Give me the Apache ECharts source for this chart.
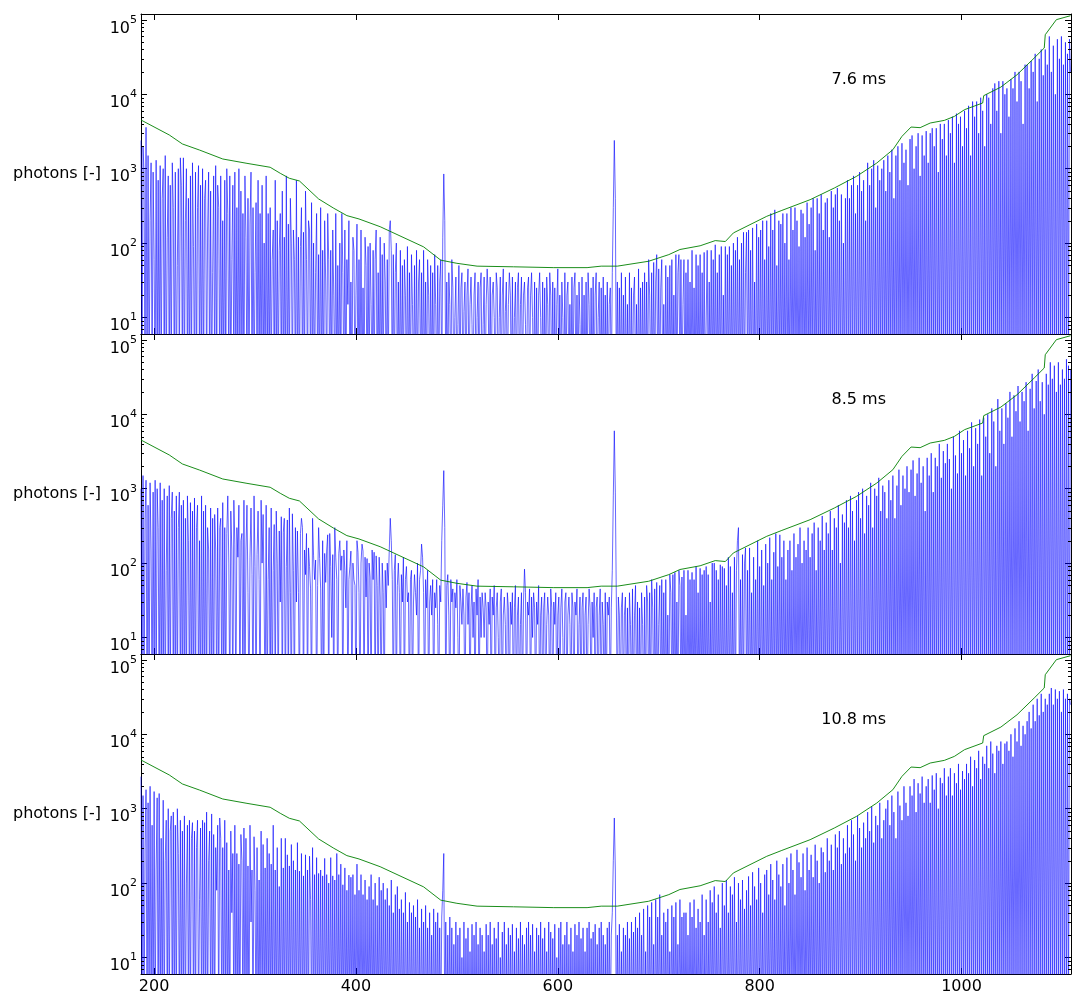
<!DOCTYPE html>
<html><head><meta charset="utf-8">
<script src="https://cdn.jsdelivr.net/npm/echarts@6/dist/echarts.min.js"></script>
<style>html,body{margin:0;padding:0;background:#fff}#c{width:1082px;height:1004px}</style>
</head><body><div id="c"></div>
<script>
// ---------------- data ----------------
const WAVELENGTH = [
187,188,189,190,191,192,193,194,195,196,197,198,199,200,201,202,203,204,205,206,
207,208,209,210,211,212,213,214,215,216,217,218,219,220,221,222,223,224,225,226,
227,228,229,230,231,232,233,234,235,236,237,238,239,240,241,242,243,244,245,246,
247,248,249,250,251,252,253,254,255,256,257,258,259,260,261,262,263,264,265,266,
267,268,269,270,271,272,273,274,275,276,277,278,279,280,281,282,283,284,285,286,
287,288,289,290,291,292,293,294,295,296,297,298,299,300,301,302,303,304,305,306,
307,308,309,310,311,312,313,314,315,316,317,318,319,320,321,322,323,324,325,326,
327,328,329,330,331,332,333,334,335,336,337,338,339,340,341,342,343,344,345,346,
347,348,349,350,351,352,353,354,355,356,357,358,359,360,361,362,363,364,365,366,
367,368,369,370,371,372,373,374,375,376,377,378,379,380,381,382,383,384,385,386,
387,388,389,390,391,392,393,394,395,396,397,398,399,400,401,402,403,404,405,406,
407,408,409,410,411,412,413,414,415,416,417,418,419,420,421,422,423,424,425,426,
427,428,429,430,431,432,433,434,435,436,437,438,439,440,441,442,443,444,445,446,
447,448,449,450,451,452,453,454,455,456,457,458,459,460,461,462,463,464,465,466,
467,468,469,470,471,472,473,474,475,476,477,478,479,480,481,482,483,484,485,486,
487,488,489,490,491,492,493,494,495,496,497,498,499,500,501,502,503,504,505,506,
507,508,509,510,511,512,513,514,515,516,517,518,519,520,521,522,523,524,525,526,
527,528,529,530,531,532,533,534,535,536,537,538,539,540,541,542,543,544,545,546,
547,548,549,550,551,552,553,554,555,556,557,558,559,560,561,562,563,564,565,566,
567,568,569,570,571,572,573,574,575,576,577,578,579,580,581,582,583,584,585,586,
587,588,589,590,591,592,593,594,595,596,597,598,599,600,601,602,603,604,605,606,
607,608,609,610,611,612,613,614,615,616,617,618,619,620,621,622,623,624,625,626,
627,628,629,630,631,632,633,634,635,636,637,638,639,640,641,642,643,644,645,646,
647,648,649,650,651,652,653,654,655,656,657,658,659,660,661,662,663,664,665,666,
667,668,669,670,671,672,673,674,675,676,677,678,679,680,681,682,683,684,685,686,
687,688,689,690,691,692,693,694,695,696,697,698,699,700,701,702,703,704,705,706,
707,708,709,710,711,712,713,714,715,716,717,718,719,720,721,722,723,724,725,726,
727,728,729,730,731,732,733,734,735,736,737,738,739,740,741,742,743,744,745,746,
747,748,749,750,751,752,753,754,755,756,757,758,759,760,761,762,763,764,765,766,
767,768,769,770,771,772,773,774,775,776,777,778,779,780,781,782,783,784,785,786,
787,788,789,790,791,792,793,794,795,796,797,798,799,800,801,802,803,804,805,806,
807,808,809,810,811,812,813,814,815,816,817,818,819,820,821,822,823,824,825,826,
827,828,829,830,831,832,833,834,835,836,837,838,839,840,841,842,843,844,845,846,
847,848,849,850,851,852,853,854,855,856,857,858,859,860,861,862,863,864,865,866,
867,868,869,870,871,872,873,874,875,876,877,878,879,880,881,882,883,884,885,886,
887,888,889,890,891,892,893,894,895,896,897,898,899,900,901,902,903,904,905,906,
907,908,909,910,911,912,913,914,915,916,917,918,919,920,921,922,923,924,925,926,
927,928,929,930,931,932,933,934,935,936,937,938,939,940,941,942,943,944,945,946,
947,948,949,950,951,952,953,954,955,956,957,958,959,960,961,962,963,964,965,966,
967,968,969,970,971,972,973,974,975,976,977,978,979,980,981,982,983,984,985,986,
987,988,989,990,991,992,993,994,995,996,997,998,999,1000,1001,1002,1003,1004,1005,1006,
1007,1008,1009,1010,1011,1012,1013,1014,1015,1016,1017,1018,1019,1020,1021,1022,1023,1024,1025,1026,
1027,1028,1029,1030,1031,1032,1033,1034,1035,1036,1037,1038,1039,1040,1041,1042,1043,1044,1045,1046,
1047,1048,1049,1050,1051,1052,1053,1054,1055,1056,1057,1058,1059,1060,1061,1062,1063,1064,1065,1066,
1067,1068,1069,1070,1071,1072,1073,1074,1075,1076,1077,1078,1079,1080,1081,1082,1083,1084,1085,1086,
1087,1088,1089,1090,1091,1092,1093,1094,1095,1096,1097,1098,1099,1100,1101,1102,1103,1104,1105,1106,
1107,1108];

const PHOTONS_7_6MS = [
2400,1,2000,900,1,3600,1,1500,1,200,1200,1,900,60,1,1300,1,700,1,1100,
1,400,1000,1,1500,1,120,800,1,600,1,1200,300,1,900,1,50,1000,1,1400,
600,1,1400,1,200,1000,1,400,1,800,1,1200,90,1,900,1,300,1100,1,600,
1,1000,1,400,700,1,150,900,1,500,1,40,800,1,1100,1,600,300,1,800,
1,200,1,700,1,1000,250,1,800,1,60,600,1,900,1,300,1,1000,1,500,
1,250,1,800,120,1,400,1,180,900,1,300,1,40,350,1,700,1,250,1,
600,1,100,1,800,1,250,1,300,1,60,150,1,700,1,200,1,80,250,1,
500,1,120,1,800,1,180,1,400,100,1,150,60,1,700,1,120,1,90,300,
1,140,1,500,60,1,200,150,1,350,1,100,1,40,250,1,70,1,300,1,
80,1,200,30,1,250,60,1,80,1,150,20,1,250,1,50,1,100,1,250,
40,1,150,1,60,15,200,1,30,1,120,80,1,20,180,1,60,1,150,1,
25,1,120,50,1,90,1,100,15,1,80,1,60,150,1,40,1,120,1,70,
1,100,30,1,60,1,150,200,80,1,70,1,40,100,1,30,1,80,1,50,
1,60,20,1,90,1,40,1,70,15,1,50,1,80,1,30,60,1,40,1,
80,1,30,1,60,20,1,50,1,40,1,70,15,1,50,1,30,60,1,120,
850,200,1,30,1,40,15,1,60,25,1,10,35,1,8,50,1,25,40,1,
12,30,1,20,45,1,15,35,8,1,20,40,1,10,30,1,25,40,1,8,
35,1,15,45,20,1,35,1,20,30,10,1,40,25,1,10,35,1,20,45,
1,12,30,1,15,40,20,1,35,1,10,30,1,25,40,1,15,35,1,20,
30,8,1,25,35,1,20,40,10,1,30,1,25,1,20,40,10,1,30,1,
25,1,35,15,1,40,20,1,30,1,25,1,15,45,1,20,1,30,10,1,
40,1,20,30,1,15,1,35,1,25,40,1,20,1,30,8,1,35,1,20,
1,30,1,40,15,1,25,1,35,1,20,40,1,10,30,1,25,1,35,1,
20,1,30,1,15,25,1,40,300,2400,400,1,30,1,25,1,40,1,20,1,
35,1,15,1,40,1,25,1,20,35,1,15,1,45,1,25,1,30,1,40,
1,30,1,60,20,1,40,1,55,1,30,70,1,45,1,25,60,1,15,1,
50,1,35,1,50,1,60,1,20,1,70,1,40,70,1,60,1,15,60,1,
40,1,60,1,30,1,80,1,25,1,70,1,50,1,70,1,40,1,75,1,
1,80,1,30,1,80,1,60,1,95,1,40,1,70,1,90,1,20,1,90,
1,70,1,90,1,50,1,100,1,80,1,120,1,60,1,100,1,140,1,40,
140,1,150,1,80,1,160,1,30,1,180,1,120,1,150,1,200,1,60,1,
200,1,90,1,250,1,150,1,280,1,50,1,200,1,180,1,250,1,100,1,
250,1,60,1,300,1,150,1,300,1,200,1,90,1,280,1,250,1,120,1,
350,1,180,1,300,1,400,1,80,1,400,1,250,1,450,1,150,1,350,1,
400,1,120,1,500,1,300,1,450,1,550,1,200,1,450,1,100,1,400,1,
700,1,400,1,600,1,800,1,250,1,600,1,900,1,500,1,700,1,200,1,
1200,1,600,1,1000,1,1300,1,300,1,1100,1,700,1,1000,1,1300,1,500,1,
1500,1,900,1,1800,1,400,1,1500,1,2000,1,700,1,2200,1,1200,1,1800,1,
600,1,2500,1,2800,1,1000,1,2000,1,3000,1,800,1,2800,1,1500,1,3200,1,
1200,1,3000,1,3500,1,2000,1,3500,1,900,1,4000,1,2500,1,4000,1,1500,1,
4500,1,3000,1,5000,1,1200,1,5500,1,4000,1,5000,1,2000,1,6000,1,3500,1,
7000,1,1500,1,8000,1,5000,1,8000,1,3000,1,9000,1,6000,1,2000,1,10000,1,
9000,1,4000,1,12000,1,14000,1,6000,1,15000,1,3000,1,15000,1,10000,1,12000,1,
5000,1,16000,1,12000,1,20000,1,8000,1,20000,1,15000,1,4000,1,25000,1,25000,1,
12000,1,28000,1,20000,1,35000,1,8000,1,30000,1,40000,1,18000,1,40000,1,25000,1,
60000,1,20000,1,45000,1,10000,1,55000,1,30000,1,60000,1,25000,1,50000,1,35000,1,
55000,20000];

const PHOTONS_8_5MS = [
1000,1,1500,1,400,1300,1,600,1,1200,150,1,900,1,1300,1,1000,300,1,1200,
1,700,1,1000,1,80,800,1,1100,1,400,900,1,500,1,800,1,300,900,1,
600,1,700,1,400,1,800,200,1,650,1,500,1,750,1,300,600,1,200,1,
800,1,500,1,600,1,300,150,1,550,1,400,1,450,150,1,550,1,300,400,
1,650,1,300,1,250,800,100,1,500,150,1,700,180,1,300,120,600,1,200,
250,1,700,1,150,600,40,1,120,550,70,1,800,90,1,130,500,60,1,700,
100,450,30,1,600,1,60,300,1,550,1,80,330,1,500,100,1,270,30,420,
1,260,400,1,90,380,1,550,40,1,460,80,1,300,30,270,40,1,250,400,
300,1,150,70,250,1,160,90,45,1,400,125,60,110,1,50,300,115,45,1,
200,1,135,55,150,240,1,250,90,10,130,1,300,120,60,1,135,200,80,125,
1,150,80,25,200,1,60,90,145,1,100,60,50,1,200,140,40,1,100,180,
145,1,120,35,115,1,100,65,1,150,60,140,1,125,50,1,120,35,1,100,
40,1,80,25,100,50,150,400,200,60,1,80,130,1,50,100,40,1,70,30,
120,1,60,90,30,40,1,60,80,1,30,70,40,20,100,1,60,80,180,120,
40,1,60,25,80,1,30,50,20,60,1,40,25,60,15,1,50,30,200,600,
1750,300,1,50,70,20,1,60,30,45,1,40,25,60,10,1,50,30,15,45,
20,1,35,55,15,40,1,25,50,10,30,1,45,20,60,1,35,10,40,25,
10,40,25,1,30,15,45,1,35,20,50,1,25,40,10,1,30,45,1,20,
35,15,1,40,25,1,30,15,40,1,25,50,1,20,35,1,15,40,1,30,
83,40,1,30,20,45,1,35,10,40,25,1,30,15,50,1,20,35,1,25,
40,1,15,35,20,1,45,25,1,30,15,40,1,20,35,1,25,45,10,1,
30,40,1,20,35,15,1,40,25,1,30,20,45,1,15,35,1,25,40,1,
20,35,1,15,45,25,1,30,10,40,1,25,35,1,20,45,1,30,15,1,
40,1,30,20,35,1,25,80,800,6000,900,30,1,35,20,1,25,40,1,20,
35,1,25,1,40,15,1,45,1,20,50,1,30,1,25,1,40,15,1,35,
1,50,30,1,40,1,60,25,1,45,1,55,1,15,50,1,60,1,40,1,
60,1,20,1,70,40,1,70,1,75,1,30,1,80,50,1,65,1,80,1,
20,1,80,1,60,1,75,1,60,1,90,1,40,1,85,1,70,1,80,1,
90,1,70,1,30,1,100,1,100,1,80,1,60,1,95,1,90,1,85,1,
50,1,120,1,90,1,40,1,120,1,80,200,300,1,60,1,130,1,100,160,
1,80,1,160,1,40,1,120,1,60,1,200,1,90,1,150,1,50,1,180,
1,100,1,220,1,60,1,140,1,250,1,90,1,240,1,120,1,200,1,60,
1,150,1,200,1,80,1,250,1,120,1,180,1,300,1,100,1,200,1,150,
1,300,1,120,1,250,1,350,1,80,1,300,1,200,1,430,1,150,1,350,
1,250,1,500,1,150,1,400,1,300,1,600,1,100,1,450,1,350,1,700,
1,300,1,800,1,500,1,200,1,700,1,900,1,400,1,1000,1,250,1,800,
1,600,1,1200,1,300,1,1000,1,800,1,1400,1,500,1,1100,1,900,1,400,
1,1300,1,700,1,1500,1,400,1,1100,1,1800,1,600,1,1500,1,1000,1,2000,
1,900,1,1800,1,2400,1,800,1,1600,1,2600,1,1200,1,2000,1,500,1,2600,
1,1500,1,3000,1,900,1,2600,1,2000,1,4000,1,1400,1,3200,1,2200,1,4000,
1,2500,1,1000,1,5000,1,2800,1,1600,1,6000,1,3000,1,4500,1,1500,1,6000,
1,3500,1,7800,1,2000,1,6500,1,4000,1,8500,1,1500,1,9000,1,5000,1,10000,
1,3000,1,12000,1,8000,1,2000,1,16000,1,6000,1,12000,1,4000,1,14000,1,9000,
1,20000,1,5000,1,18000,1,11000,1,24000,1,8000,1,20000,1,15000,1,27000,1,6000,
1,22000,1,35000,1,12000,1,28000,1,40000,1,15000,1,27000,1,10000,1,35000,1,25000,
1,50000,1,30000,1,45000,1,20000,1,50000,1,25000,1,40000,1,30000,1,55000,1,45000,
1,40000];

const PHOTONS_10_8MS = [
2700,1,1500,1,300,1800,1,1200,1,2000,1,600,1,1700,1,150,1400,1,1600,1,
400,1,1300,1,200,700,1,1000,1,500,800,1,900,1,600,1,1000,250,1,700,
1,500,1,800,1,100,600,1,700,1,400,650,1,500,1,300,700,1,60,550,
1,700,1,650,1,900,1,200,500,1,850,1,450,1,300,80,600,1,750,400,
1,300,1,700,1,350,1,150,1,500,40,250,1,600,1,250,1,180,1,450,
200,1,550,1,400,1,170,1,600,30,150,1,420,80,1,300,1,110,1,500,
1,330,1,160,1,400,1,250,1,180,1,600,1,150,1,300,1,90,1,400,
1,160,1,400,1,240,1,170,1,330,1,200,1,150,1,350,1,145,1,250,
1,125,1,240,1,150,1,230,60,1,300,1,130,1,220,1,135,1,150,1,
125,1,215,1,130,1,100,1,220,1,125,1,110,1,250,1,130,1,180,1,
95,1,160,1,80,1,128,1,120,1,130,1,70,1,180,1,80,1,130,1,
70,1,110,1,60,1,90,1,130,1,60,1,100,1,50,1,120,1,80,1,
100,1,60,1,85,1,50,1,110,1,40,1,70,1,90,1,45,1,60,1,
40,1,75,1,30,1,55,1,40,1,50,1,35,1,60,1,25,1,45,1,
30,1,50,1,25,1,40,1,20,1,45,1,30,1,40,1,25,1,35,80,
250,1,30,1,20,1,35,1,25,1,15,1,30,1,20,1,25,1,10,1,
30,1,18,1,25,1,12,1,28,1,20,1,30,1,15,1,25,1,20,1,
12,1,28,1,20,1,30,1,15,1,25,1,18,1,30,1,10,1,22,1,
30,1,15,1,25,1,20,1,28,1,12,1,25,1,18,1,30,1,20,1,
15,1,25,1,30,1,20,1,28,1,12,1,25,1,20,1,30,1,18,1,
25,1,12,1,30,1,22,1,18,1,28,1,10,1,25,1,30,1,15,1,
20,1,30,1,15,1,25,1,12,1,28,1,20,1,30,1,18,1,25,1,
12,1,25,1,30,1,18,1,22,1,28,1,15,1,25,1,30,1,20,1,
15,1,25,1,30,1,20,40,200,750,150,1,20,1,28,1,12,1,25,1,
20,1,30,1,18,1,30,1,22,1,35,1,25,1,40,1,20,1,45,1,
12,1,50,1,35,1,55,1,15,1,60,1,35,1,70,1,20,1,40,1,
30,1,45,1,12,1,50,1,35,1,55,1,15,1,60,1,35,1,40,1,
40,1,20,1,55,1,35,1,60,1,25,1,45,1,30,1,70,1,20,1,
60,1,30,1,80,1,55,1,90,1,40,1,70,1,25,1,100,1,50,1,
110,1,40,1,90,1,70,1,120,1,30,1,100,1,60,1,110,1,45,1,
80,1,123,1,50,1,140,1,90,1,60,1,160,1,100,1,40,1,130,1,
150,1,70,1,180,1,110,1,60,1,200,1,130,1,90,1,180,1,50,1,
220,1,100,1,250,1,150,1,70,1,280,1,190,1,120,1,250,1,80,1,
300,1,150,1,240,1,120,1,328,1,200,1,100,1,300,1,260,1,140,1,
400,1,200,1,328,1,150,1,450,1,300,1,500,1,180,1,400,1,250,1,
600,1,300,1,700,1,450,1,200,1,800,1,550,1,300,1,650,1,400,1,
900,1,500,1,1070,1,350,1,800,1,600,1,1200,1,400,1,700,1,1000,1,
1300,1,600,1,1500,1,900,1,400,1,1700,1,1100,1,700,1,2000,1,1200,1,
800,1,2000,1,1500,1,2500,1,900,1,2200,1,1600,1,2700,1,1200,1,2000,1,
2500,1,1200,1,2800,1,1800,1,3000,1,1000,1,2600,1,2200,1,3500,1,1500,1,
2700,1,3500,1,1500,1,3000,1,2200,1,4000,1,1800,1,3200,1,2500,1,4000,1,
3000,1,5000,1,2000,1,4500,1,3500,1,6000,1,2500,1,5000,1,4000,1,7000,1,
3500,1,8000,1,5500,1,3000,1,7000,1,6000,1,8000,1,4000,1,7500,1,8000,1,
6000,1,10000,1,5000,1,12000,1,8000,1,15000,1,7000,1,13000,1,10000,1,15000,1,
20000,1,12000,1,25000,1,15000,1,30000,1,18000,1,35000,1,20000,1,30000,1,25000,1,
35000,1,41900,1,25000,1,40000,1,30000,1,38000,1,20000,1,40000,1,30000,1,35000,1,
30000,25000];

const THRESHOLD_WL = [187,215,228,245,268,292,315,325,334,344,363,378,391,403,424,467,484,500,520,556,596,629,643,659,690,710,721,741,756,766,774,807,822,850,874,896,916,932,941,950,959,969,983,993,1003,1021,1022,1039,1055,1072,1082,1083,1094,1108];
const THRESHOLD_VAL = [4510,2840,2150,1780,1350,1180,1045,867,743,684,392,294,234,211,166,89,59,53.5,49,48,46.8,46.8,49,49,57,70,82,92,108,105,137,229,275,383,550,789,1190,1800,2720,3630,3560,4110,4460,5050,6210,7640,9580,12500,18300,30700,41900,63200,100700,113800];

const PANEL_LABELS = ['7.6 ms', '8.5 ms', '10.8 ms'];
const X_TICK_LABELS = [200, 400, 600, 800, 1000];
const Y_MINOR_TICKS = [6,7,8,9,20,30,40,50,60,70,80,90,200,300,400,500,600,700,800,900,2000,3000,4000,5000,6000,7000,8000,9000,20000,30000,40000,50000,60000,70000,80000,90000];
const Y_NAME = 'photons [-]';

// ---------------- layout / style ----------------
const X_MIN = 187, X_MAX = 1108.5, Y_MIN = 6, Y_MAX = 120000;
const GRID_LEFT = 141, GRID_WIDTH = 930, GRID_TOP = 14, GRID_H = 320;
const FONT = 'DejaVu Sans';

const PANELS = [PHOTONS_7_6MS, PHOTONS_8_5MS, PHOTONS_10_8MS];
PANELS.forEach((p, k) => { if (p.length !== WAVELENGTH.length) throw new Error('panel ' + k + ' length ' + p.length + ' vs ' + WAVELENGTH.length); });
if (THRESHOLD_WL.length !== THRESHOLD_VAL.length) throw new Error('threshold length');

const chart = echarts.init(document.getElementById('c'), null, {renderer: 'canvas'});
const grid = [], xAxis = [], yAxis = [], series = [], graphic = [];
const axisLine = {show: true, onZero: false, lineStyle: {color: '#000', width: 1}};
const tick = {show: true, inside: true, length: 6, lineStyle: {color: '#000', width: 1}};

PANELS.forEach((vals, p) => {
  grid.push({left: GRID_LEFT, width: GRID_WIDTH, top: GRID_TOP + GRID_H * p, height: GRID_H,
    containLabel: false, outerBoundsMode: 'none'});
  xAxis.push({gridIndex: p, type: 'value', position: 'bottom', min: X_MIN, max: X_MAX,
    splitLine: {show: false}, axisLine, axisTick: tick,
    axisLabel: {show: p === 2, margin: 5, color: '#000', fontSize: 16, fontFamily: FONT,
      formatter: v => X_TICK_LABELS.some(t => Math.abs(t - v) < 1e-6) ? String(Math.round(v)) : ''}});
  xAxis.push({gridIndex: p, type: 'value', position: 'top', min: X_MIN, max: X_MAX,
    splitLine: {show: false}, axisLine, axisTick: tick, axisLabel: {show: false}});
  yAxis.push({gridIndex: p, type: 'log', logBase: 10, position: 'left', min: Y_MIN, max: Y_MAX,
    name: Y_NAME, nameLocation: 'middle', nameRotate: 0, nameGap: 40,
    nameTextStyle: {color: '#000', fontSize: 16, fontFamily: FONT},
    splitLine: {show: false}, axisLine, axisTick: tick,
    axisLabel: {show: true, margin: 4, color: '#000', fontFamily: FONT, padding: [11, 0, 0, 0],
      formatter: v => { const l = Math.log10(v), e = Math.round(l); return Math.abs(l - e) > 1e-6 ? '' : '{b|10}{s|' + e + '}'; },
      rich: {b: {fontSize: 16, fontFamily: FONT, color: '#000', lineHeight: 22, verticalAlign: 'bottom'},
             s: {fontSize: 11, fontFamily: FONT, color: '#000', lineHeight: 7, verticalAlign: 'top'}}}});
  yAxis.push({gridIndex: p, type: 'log', logBase: 10, position: 'right', min: Y_MIN, max: Y_MAX,
    splitLine: {show: false}, axisLine, axisTick: tick, axisLabel: {show: false}});

  series.push({type: 'line', xAxisIndex: 2 * p, yAxisIndex: 2 * p, data: WAVELENGTH.map((w, i) => [w, vals[i]]),
    symbol: 'none', showSymbol: false, clip: true, silent: true, animation: false, z: 2,
    lineStyle: {color: '#0000ff', width: 0.6}});
  series.push({type: 'line', xAxisIndex: 2 * p, yAxisIndex: 2 * p, data: THRESHOLD_WL.map((w, i) => [w, THRESHOLD_VAL[i]]),
    symbol: 'none', showSymbol: false, clip: true, silent: true, animation: false, z: 3,
    lineStyle: {color: '#008000', width: 0.9}});
  series.push({type: 'custom', xAxisIndex: 2 * p, yAxisIndex: 2 * p, silent: true, animation: false, z: 5,
    data: Y_MINOR_TICKS.map(v => [X_MIN, v]),
    renderItem: (params, api) => {
      const v = api.value(1);
      const pl = api.coord([X_MIN, v]), pr = api.coord([X_MAX, v]);
      const y = Math.round(pl[1]) + 0.5;
      return {type: 'group', children: [
        {type: 'line', shape: {x1: pl[0], y1: y, x2: pl[0] + 3, y2: y}, style: {stroke: '#000', lineWidth: 1}},
        {type: 'line', shape: {x1: pr[0] - 3, y1: y, x2: pr[0], y2: y}, style: {stroke: '#000', lineWidth: 1}}
      ]};
    }});
  graphic.push({type: 'text', x: 886, y: 80 + GRID_H * p, z: 10,
    style: {text: PANEL_LABELS[p], align: 'right', verticalAlign: 'middle', font: '16px "DejaVu Sans"', fill: '#000'}});
});

chart.setOption({backgroundColor: '#fff', animation: false, grid, xAxis, yAxis, series, graphic});
</script></body></html>
